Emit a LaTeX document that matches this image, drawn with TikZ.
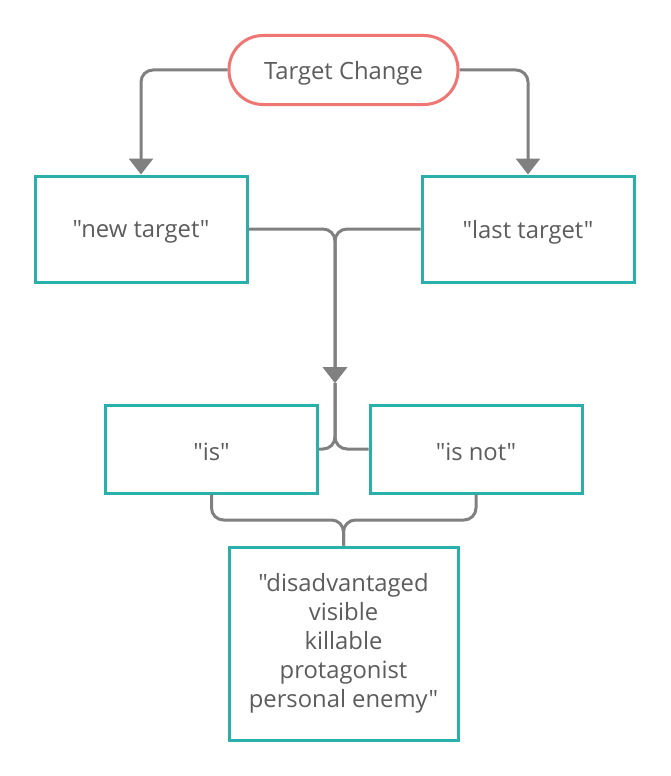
\documentclass[tikz,border=0pt]{standalone}
\usepackage{fontspec}
\setmainfont{Open Sans}[Ligatures=TeXOff]
\usetikzlibrary{arrows.meta}
\definecolor{teal1}{RGB}{42,176,170}
\definecolor{salmon}{RGB}{240,118,116}
\definecolor{linegray}{RGB}{128,128,128}
\definecolor{txt}{RGB}{92,92,92}
\newcommand{\lowr}[1]{\raisebox{-3pt}[\height][\depth]{#1}}
\tikzset{
  box/.style={draw=teal1, line width=3pt, fill=white, text=txt, font=\fontsize{23.8}{29}\selectfont, align=center, inner sep=0pt},
  pill/.style={draw=salmon, line width=3pt, fill=white, text=txt, font=\fontsize{23.8}{29}\selectfont, rounded corners=34pt, inner sep=0pt},
  conn/.style={draw=linegray, line width=3pt, rounded corners=12pt},
  arr/.style={-{Triangle[width=24pt,length=16pt]}},
}
\begin{document}
\begin{tikzpicture}[x=1pt,y=-1pt]
\useasboundingbox (0,0) rectangle (670,776);
\node[pill, minimum width=229pt, minimum height=69pt] (tc) at (343.5,70) {\lowr{Target Change}};
\node[box, minimum width=212pt, minimum height=106pt] (nt) at (141,229) {\lowr{"new target"}};
\node[box, minimum width=212pt, minimum height=106pt] (lt) at (528,229) {\lowr{"last target"}};
\node[box, minimum width=212pt, minimum height=88pt] (is) at (211.5,449) {\lowr{"is"}};
\node[box, minimum width=212pt, minimum height=88pt] (isn) at (476,449) {\lowr{"is not"}};
\node[box, minimum width=229pt, minimum height=193pt] (big) at (343.5,643.5) {"disadvantaged\\visible\\killable\\protagonist\\personal enemy"};
\coordinate (m1) at (335,383);
\coordinate (m2) at (343.5,520);
\draw[conn, arr] (tc.west) -| (nt.north);
\draw[conn, arr] (tc.east) -| (lt.north);
\draw[conn, arr] (nt.east) -| (m1);
\draw[conn, arr] (lt.west) -| (m1);
\draw[conn] (m1) |- (is.east);
\draw[conn] (m1) |- (isn.west);
\draw[conn] (is.south) |- (m2) -- (big.north);
\draw[conn] (isn.south) |- (m2) -- (big.north);
\end{tikzpicture}
\end{document}
